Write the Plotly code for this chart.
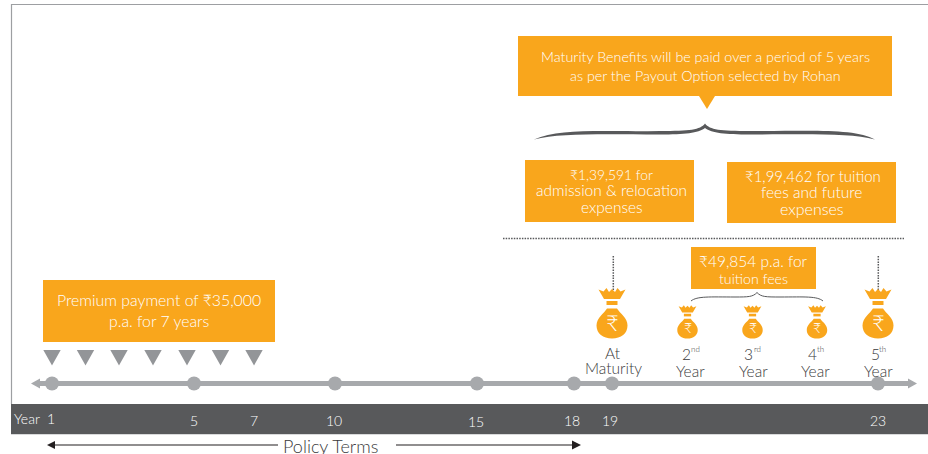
import plotly.graph_objects as go

W, H = 928, 454
ORANGE = "#f9a61c"
DARK = "#58595b"
GREY = "#a7a9ac"
FONT = "Lato Light, Lato"

# Data / text content
year_labels = ["Year", "1", "5", "7", "10", "15", "18", "19", "23"]
timeline_years = ["1", "5", "10", "15", "18", "19", "23"]
premium_years = [1, 2, 3, 4, 5, 6, 7]
box_texts = [
    ["Premium payment of ₹35,000", "p.a. for 7 years"],
    ["Maturity Benefits will be paid over a period of 5 years", "as per the Payout Option selected by Rohan"],
    ["₹1,39,591 for", "admission & relocation", "expenses"],
    ["₹1,99,462 for tuition", "fees and future", "expenses"],
    ["₹49,854 p.a. for", "tuition fees"],
]
payout_first = ["At", "2", "3", "4", "5"]
payout_suffix = ["", "nd", "rd", "th", "th"]
payout_second = ["Maturity", "Year", "Year", "Year", "Year"]

# Layout of the infographic (pixel canvas)
label_pos = [(27, 418), (51, 418), (194, 420), (254, 420), (334, 420.5), (476, 421), (572, 420), (610, 420), (878, 420)]
dot_x = [52, 194, 335, 477, 574, 612, 878]
premium_x = [52, 85.5, 119, 153, 187, 220.5, 254]
boxes = [(43, 280, 275, 342), (518, 36, 892, 96), (525, 160, 694, 222), (727, 162, 896, 223), (691, 247, 816, 289)]
box_line_y = [[299, 320], [56, 75], [174, 190, 207], [176, 192, 208], [261, 278]]
box_line_x = [[159, 159], [705, 705], [611.5, 611.5, 611.5], [812.5, 811.5, 811.5], [753.5, 753.5]]
box_size = [[15.8, 15.8], [14.3, 14.3], [13.8, 15.5, 15.5], [15, 15.5, 16], [15.5, 14.2]]
bags = [(612, 1.0), (687.5, 0.66), (752.5, 0.66), (817, 0.66), (878, 1.0)]
first_x = [613, 686, 748.5, 812.5, 875]
suffix_x = [0, 695, 757, 820.5, 882.5]
second_x = [613, 690, 753, 815, 878]

shapes = []


def rect(x0, y0, x1, y1, color):
    shapes.append(dict(type="rect", x0=x0, y0=y0, x1=x1, y1=y1, fillcolor=color, line_width=0, layer="below"))


def poly(d, fill=None, line=None, w=1):
    ln = dict(width=w if line else 0, color=line or "rgba(0,0,0,0)")
    shapes.append(dict(type="path", path=d, fillcolor=fill or "rgba(0,0,0,0)", line=ln, layer="below"))


def seg(x0, y0, x1, y1, color, w, dash=None):
    ln = dict(color=color, width=w)
    if dash:
        ln["dash"] = dash
    shapes.append(dict(type="line", x0=x0, y0=y0, x1=x1, y1=y1, line=ln, layer="below"))


# frame
seg(11, 4.5, 928, 4.5, "#9d9fa2", 1.2)
seg(11.5, 4, 11.5, 404, "#9d9fa2", 1.2)
# band
rect(11, 404, 928, 434, DARK)
seg(11, 434.5, 928, 434.5, "#d9dadb", 1)
# timeline
seg(38, 383.5, 910, 383.5, GREY, 5)
poly("M 31 383.5 L 40 378.5 L 40 388.5 Z", GREY)
poly("M 917 383.5 L 908 378.5 L 908 388.5 Z", GREY)
# premium triangles
for px in premium_x:
    poly(f"M {px - 8.7} 350 L {px + 8.7} 350 L {px} 365.5 Z", "#939598")
# boxes
for b in boxes:
    rect(*b, ORANGE)
poly("M 699 96 L 715 96 L 707 109 Z", ORANGE)
# dotted lines
seg(503, 238.5, 904, 238.5, "#58595b", 1.5, "1.5px,1.2px")
seg(613.3, 256, 613.3, 290, "#58595b", 1.5, "1.5px,1.2px")
seg(878.3, 256, 878.3, 290, "#58595b", 1.5, "1.5px,1.2px")
# big brace
poly("M 534 139.5 C 560 128 600 132 660 131 C 690 131 700 130 705 123.5 "
     "C 710 130 720 131 750 131 C 810 131 855 128 875 139.5 "
     "C 850 133 810 134.5 750 134.5 C 725 134.5 712 133 705 128 "
     "C 698 133 685 134.5 660 134.5 C 600 134.5 560 133 534 139.5 Z", "#58595b")
# small brace
poly("M 691 301 C 697 296 710 297 735 297 C 748 297 753 297 757 292.5 "
     "C 761 297 766 297 780 297 C 805 297 817 296 823 301", None, "#58595b", 1)
# policy term arrows
seg(52, 445, 278, 445, "#231f20", 1.2)
poly("M 47 445 L 55 441 L 55 449 Z", "#231f20")
seg(396, 445, 575, 445, "#231f20", 1.2)
poly("M 581 445 L 572 440.5 L 572 449.5 Z", "#231f20")

BASE = 338.5


def bag(cx, s):
    y = lambda v: BASE - v * s
    x = lambda v: cx + v * s
    body = (f"M {x(-5)} {y(30)} C {x(-8)} {y(25)} {x(-15.5)} {y(21)} {x(-15.5)} {y(13)} "
            f"C {x(-15.5)} {y(5)} {x(-9)} {y(0)} {x(0)} {y(0)} "
            f"C {x(9)} {y(0)} {x(15.5)} {y(5)} {x(15.5)} {y(13)} "
            f"C {x(15.5)} {y(21)} {x(8)} {y(25)} {x(5)} {y(30)} Z")
    poly(body, ORANGE)
    poly(f"M {x(-5.5)} {y(37.5)} L {x(5.5)} {y(37.5)} L {x(5.5)} {y(33.5)} L {x(-5.5)} {y(33.5)} Z", ORANGE)
    crown = (f"M {x(-13.5)} {y(49)} L {x(-8.5)} {y(47)} L {x(-5.5)} {y(50.5)} L {x(-3)} {y(46.5)} L {x(0)} {y(49.5)} "
             f"L {x(3)} {y(46.5)} L {x(5.5)} {y(50.5)} L {x(8.5)} {y(47)} L {x(13.5)} {y(49)} "
             f"L {x(8)} {y(39.5)} L {x(-8)} {y(39.5)} Z")
    poly(crown, ORANGE)


for cx, s in bags:
    bag(cx, s)

annotations = []


def text(x, y, t, size, color, anchor="center"):
    annotations.append(dict(x=x, y=y, text=t, showarrow=False, xanchor=anchor, yanchor="middle",
                            font=dict(family=FONT, size=size, color=color), xref="x", yref="y"))


for lines, ys, xs, szs in zip(box_texts, box_line_y, box_line_x, box_size):
    for t, y, x_, sz in zip(lines, ys, xs, szs):
        text(x_, y, t, sz, "#ffffff")

for lab, (lx, ly) in zip(year_labels, label_pos):
    text(lx, ly, lab, 14, "#ffffff")
text(330, 446, "Policy Terms", 18, "#3a3a3c")

for (cx, s) in bags:
    text(cx, BASE - 16.5 * s, "₹", 22 if s == 1.0 else 14, "#ffffff")

for i in range(5):
    first_y = 353 if i == 0 else 354
    second_y = 368 if i == 0 else 371
    text(first_x[i], first_y, payout_first[i], 15.5, "#3a3a3c")
    if payout_suffix[i]:
        text(suffix_x[i], 349, payout_suffix[i], 8, "#3a3a3c")
    text(second_x[i], second_y, payout_second[i], 15.5, "#3a3a3c")

fig = go.Figure()
fig.add_trace(go.Scatter(x=dot_x, y=[383.5] * len(dot_x), mode="markers",
                         hoverinfo="text", text=timeline_years,
                         marker=dict(symbol="circle", size=14, color=GREY, line_width=0)))
fig.update_layout(
    width=W, height=H, margin=dict(l=0, r=0, t=0, b=0), showlegend=False,
    paper_bgcolor="white", plot_bgcolor="white", shapes=shapes, annotations=annotations,
    xaxis=dict(range=[0, W], visible=False, fixedrange=True),
    yaxis=dict(range=[H, 0], visible=False, fixedrange=True),
)
fig.write_html("out.html", config={"displayModeBar": False}, post_script="document.body.style.margin='0';")
